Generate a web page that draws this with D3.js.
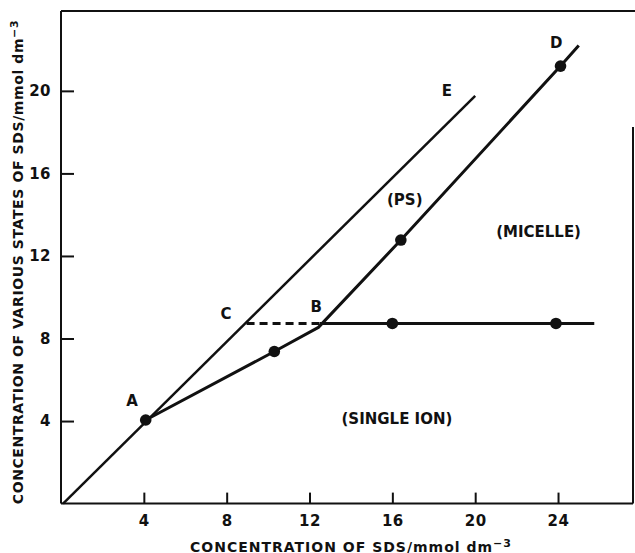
<!DOCTYPE html>
<html>
<head>
<meta charset="utf-8">
<script src="https://cdn.jsdelivr.net/npm/d3@7"></script>
<style>
  html, body { margin: 0; padding: 0; background: #fff; }
  svg { display: block; }
  text { font-family: "DejaVu Sans", "Liberation Sans", sans-serif; font-weight: bold; fill: #111; }
</style>
</head>
<body>
<svg id="chart" width="635" height="553"></svg>
<script>
// Axis extents (mmol dm^-3) and tick values
const xMax = 27.62;
const yMax = 23.87;
const xTicks = [4, 8, 12, 16, 20, 24];
const yTicks = [4, 8, 12, 16, 20];

// Line E: total added SDS (ideal, no micellisation)
const lineEX = [0.1, 20.0];
const lineEY = [0.0, 19.76];

// A -> B -> D: curve through the measured points (single ion + PS, then micelle)
const curveX = [4.09, 10.30, 12.43, 16.41, 24.12, 25.0];
const curveY = [4.05, 7.37, 8.54, 12.77, 21.2, 22.2];
const curveDotX = [4.09, 10.30, 16.41, 24.12];
const curveDotY = [4.05, 7.37, 12.77, 21.2];

// Single-ion plateau beyond B, and the dashed C–B connector
const plateauY = 8.73;
const plateauX = [12.5, 25.75];
const plateauDotX = [16.0, 23.9];
const dashedX = [8.96, 12.5];

// Point and region labels
const labelText = ["A", "B", "C", "D", "E", "(PS)", "(MICELLE)", "(SINGLE ION)"];
const labelX = [3.43, 12.32, 7.97, 23.91, 18.63, 16.6, 23.06, 16.22];
const labelY = [4.99, 9.54, 9.23, 22.33, 19.99, 14.74, 13.2, 4.13];

const svg = d3.select("#chart");
const x = d3.scaleLinear().domain([0, xMax]).range([61, 633]);
const y = d3.scaleLinear().domain([0, yMax]).range([503.6, 11]);

// Frame: left, bottom, top, and the visible part of the right edge
const frame = svg.append("g").attr("stroke", "#111").attr("stroke-width", 2).attr("fill", "none");
frame.append("line").attr("x1", x(0)).attr("x2", x(0)).attr("y1", y(yMax)).attr("y2", y(0));
frame.append("line").attr("x1", x(0)).attr("x2", x(xMax)).attr("y1", y(0)).attr("y2", y(0));
frame.append("line").attr("x1", x(0)).attr("x2", 635).attr("y1", y(yMax)).attr("y2", y(yMax));
frame.append("line").attr("x1", x(xMax)).attr("x2", x(xMax)).attr("y1", y(18.25)).attr("y2", y(0));

// Axes with inward ticks
const xAxis = d3.axisBottom(x).tickValues(xTicks).tickSizeInner(-11).tickSizeOuter(0).tickPadding(12);
const gx = svg.append("g").attr("transform", `translate(0,${y(0)})`).call(xAxis);
const yAxis = d3.axisLeft(y).tickValues(yTicks).tickSizeInner(-13).tickSizeOuter(0).tickPadding(10);
const gy = svg.append("g").attr("transform", `translate(${x(0)},0)`).call(yAxis);
[gx, gy].forEach(g => {
  g.select(".domain").remove();
  g.selectAll(".tick line").attr("stroke", "#111").attr("stroke-width", 2);
  g.selectAll(".tick text")
    .style("font-family", '"DejaVu Sans", sans-serif')
    .style("font-weight", "bold")
    .style("font-size", "15px")
    .style("letter-spacing", "0.5px")
    .attr("fill", "#111");
});

// Axis titles
const xt = svg.append("text")
  .attr("x", 351).attr("y", 551.5)
  .attr("text-anchor", "middle")
  .style("font-size", "14px").style("letter-spacing", "1px");
xt.append("tspan").text("CONCENTRATION OF SDS/mmol dm");
xt.append("tspan").attr("dy", -5).style("font-size", "11px").text("−3");

const yt = svg.append("text")
  .attr("transform", "translate(23,262) rotate(-90)")
  .attr("text-anchor", "middle")
  .style("font-size", "14px").style("letter-spacing", "0.6px");
yt.append("tspan").text("CONCENTRATION OF VARIOUS STATES OF SDS/mmol dm");
yt.append("tspan").attr("dy", -5).style("font-size", "11px").text("−3");

// Data lines
const line = d3.line().x(d => x(d[0])).y(d => y(d[1]));

svg.append("path")
  .datum(d3.zip(lineEX, lineEY))
  .attr("d", line)
  .attr("fill", "none").attr("stroke", "#111").attr("stroke-width", 2.5);

svg.append("path")
  .datum(d3.zip(curveX, curveY))
  .attr("d", line)
  .attr("fill", "none").attr("stroke", "#111").attr("stroke-width", 3)
  .attr("stroke-linejoin", "round");

svg.append("path")
  .datum(plateauX.map(v => [v, plateauY]))
  .attr("d", line)
  .attr("fill", "none").attr("stroke", "#111").attr("stroke-width", 3);

svg.append("path")
  .datum(dashedX.map(v => [v, plateauY]))
  .attr("d", line)
  .attr("fill", "none").attr("stroke", "#111").attr("stroke-width", 3)
  .attr("stroke-dasharray", "8,5");

// Measured points
const dots = d3.zip(curveDotX, curveDotY).concat(plateauDotX.map(v => [v, plateauY]));
svg.append("g").selectAll("circle")
  .data(dots).join("circle")
  .attr("cx", d => x(d[0])).attr("cy", d => y(d[1]))
  .attr("r", 5.8).attr("fill", "#111");

// Labels
svg.append("g").selectAll("text")
  .data(d3.zip(labelText, labelX, labelY)).join("text")
  .attr("x", d => x(d[1])).attr("y", d => y(d[2]))
  .attr("dy", "0.36em")
  .attr("text-anchor", "middle")
  .style("font-size", "15px")
  .text(d => d[0]);
</script>
</body>
</html>
